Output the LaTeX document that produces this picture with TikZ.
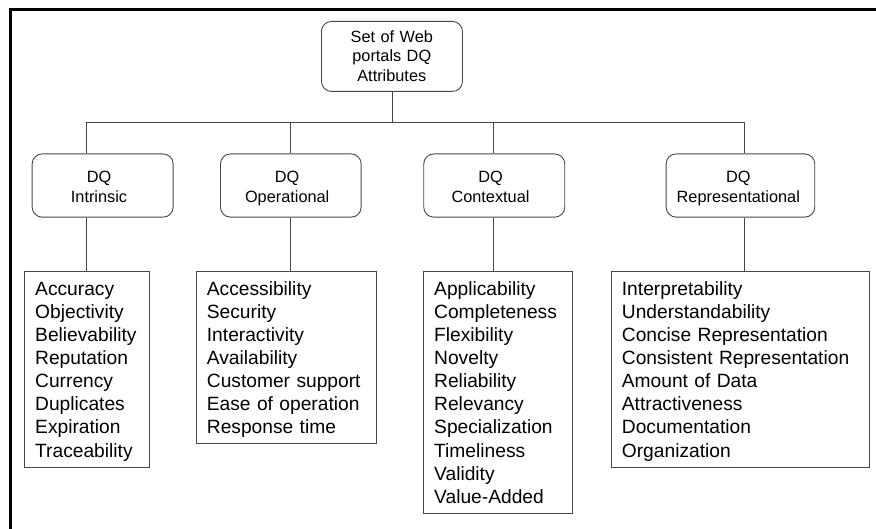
\documentclass[tikz,border=0pt]{standalone}
\usepackage{fontspec}
\setmainfont{Liberation Sans}
\begin{document}
\begin{tikzpicture}[x=1pt,y=-1pt,
  box/.style={draw=black!72, line width=0.9pt, inner sep=0pt, anchor=north west},
  rbox/.style={box, rounded corners=10pt},
  conn/.style={draw=black!72, line width=0.9pt},
  headtext/.style={inner sep=0pt, anchor=base, text width=160pt, align=center,
    font=\fontsize{16.3}{19.5}\selectfont},
  listtext/.style={inner sep=0pt, anchor=base west, text width=250pt, align=left,
    font=\fontsize{19.2}{23.05}\selectfont}
]
\useasboundingbox (0,0) rectangle (876,529);

% outer frame (top and left edges)
\draw[line width=3pt, line join=miter] (10.8,529) -- (10.8,9.5) -- (876,9.5);

% root
\node[rbox, minimum width=141pt, minimum height=70pt] (root) at (321,21) {};
\node[headtext] (rootT) at (391.8,42.3) {Set of Web\\portals DQ\\Attributes};

% category boxes
\node[rbox, minimum width=141pt,   minimum height=63.2pt] (intr) at (31.7,153.5) {};
\node[rbox, minimum width=140.7pt, minimum height=63.2pt] (oper) at (220,153.5) {};
\node[rbox, minimum width=141pt,   minimum height=63.2pt] (cont) at (423.3,153.5) {};
\node[rbox, minimum width=148.6pt, minimum height=63.2pt] (repr) at (665.7,153.5) {};

\node[headtext] (intrT) at (99.0,182.7) {DQ\\Intrinsic};
\node[headtext] (operT) at (287.2,182.7) {DQ\\Operational};
\node[headtext] (contT) at (490.5,182.7) {DQ\\Contextual};
\node[headtext] (reprT) at (738.3,182.7) {DQ\\Representational};

% attribute lists
\node[box, minimum width=125.6pt, minimum height=196.3pt] (intrL) at (23.7,270.7) {};
\node[box, minimum width=180.3pt, minimum height=172.6pt] (operL) at (196,270.7) {};
\node[box, minimum width=148.7pt, minimum height=242.6pt] (contL) at (423.3,270.7) {};
\node[box, minimum width=258.6pt, minimum height=195.8pt] (reprL) at (610.7,270.9) {};

\node[listtext] (intrLT) at (35,295.7) {Accuracy\\Objectivity\\Believability\\Reputation\\Currency\\Duplicates\\Expiration\\Traceability};
\node[listtext] (operLT) at (206.7,295.7) {Accessibility\\Security\\Interactivity\\Availability\\Customer support\\Ease of operation\\Response time};
\node[listtext] (contLT) at (434,295.7) {Applicability\\Completeness\\Flexibility\\Novelty\\Reliability\\Relevancy\\Specialization\\Timeliness\\Validity\\Value-Added};
\node[listtext] (reprLT) at (621.7,295.7) {Interpretability\\Understandability\\Concise Representation\\Consistent Representation\\Amount of Data\\Attractiveness\\Documentation\\Organization};

% tree connectors
\coordinate (b1) at (86.7,122);
\coordinate (b2) at (290,122);
\coordinate (b3) at (493.3,122);
\coordinate (b4) at (744,122);
\draw[conn] (root.south) -- (root.south |- b1);
\draw[conn] (b1) -- (b4);
\draw[conn] (b1) -- (intr.north -| b1);
\draw[conn] (b2) -- (oper.north -| b2);
\draw[conn] (b3) -- (cont.north -| b3);
\draw[conn] (b4) -- (repr.north -| b4);
\draw[conn] (intr.south -| b1) -- (intrL.north -| b1);
\draw[conn] (oper.south -| b2) -- (operL.north -| b2);
\draw[conn] (cont.south -| b3) -- (contL.north -| b3);
\draw[conn] (repr.south -| b4) -- (reprL.north -| b4);
\end{tikzpicture}
\end{document}
